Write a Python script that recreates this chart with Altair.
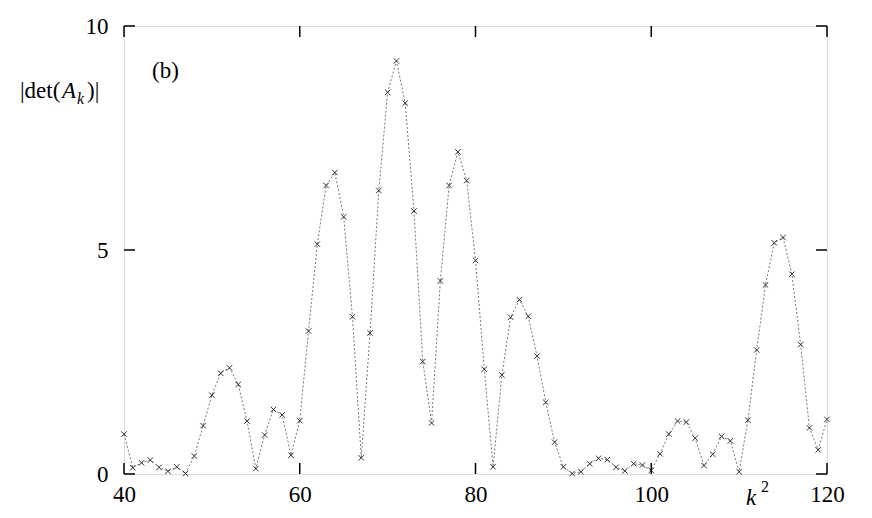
import altair as alt
import pandas as pd

# k^2 values (x) and |det(A_k)| values (y)
k2 = list(range(40, 121))
det = [
    0.89, 0.14, 0.25, 0.31, 0.15, 0.06, 0.16, 0.01, 0.40, 1.08,   # 40-49
    1.76, 2.25, 2.37, 2.00, 1.18, 0.12, 0.87, 1.44, 1.32, 0.42,   # 50-59
    1.19, 3.19, 5.13, 6.44, 6.73, 5.74, 3.51, 0.36, 3.15, 6.33,   # 60-69
    8.52, 9.22, 8.28, 5.87, 2.51, 1.14, 4.31, 6.44, 7.19, 6.55,   # 70-79
    4.77, 2.34, 0.16, 2.21, 3.50, 3.89, 3.52, 2.63, 1.60, 0.71,   # 80-89
    0.16, 0.01, 0.05, 0.23, 0.35, 0.32, 0.15, 0.07, 0.23, 0.20,   # 90-99
    0.08, 0.45, 0.89, 1.18, 1.16, 0.80, 0.19, 0.44, 0.84, 0.74,   # 100-109
    0.05, 1.20, 2.77, 4.22, 5.16, 5.28, 4.46, 2.89, 1.03, 0.54,   # 110-119
    1.22,                                                           # 120
]
x_ticks = [40, 60, 80, 100, 120]
y_ticks = [0, 5, 10]

W, H = 703, 448
TL = 11
FONT = "Liberation Serif, Times New Roman, Times, serif"
FS = 23

df = pd.DataFrame({"k2": k2, "det": det})
xt = pd.DataFrame({"t": x_ticks})
yt = pd.DataFrame({"t": y_ticks})

xscale = alt.Scale(domain=[40, 120], nice=False, zero=False)
yscale = alt.Scale(domain=[0, 10], nice=False)

xaxis = alt.Axis(values=x_ticks, title=None, domain=False, ticks=False, tickSize=0,
                 grid=False, labelFont=FONT, labelFontSize=FS, labelColor="black",
                 labelPadding=9, labelFlush=False)
yaxis = alt.Axis(values=y_ticks, title=None, domain=False, ticks=False, tickSize=0,
                 grid=False, labelFont=FONT, labelFontSize=FS, labelColor="black",
                 labelPadding=16, labelBaseline="middle")

line = alt.Chart(df).mark_line(color="#777777", strokeWidth=1, strokeDash=[2, 2]).encode(
    x=alt.X("k2:Q", scale=xscale, axis=xaxis),
    y=alt.Y("det:Q", scale=yscale, axis=yaxis),
)

pts = alt.Chart(df).mark_point(
    shape="M-1,-1L1,1M-1,1L1,-1", size=30, stroke="#333333", strokeWidth=1, filled=False, opacity=1
).encode(
    x=alt.X("k2:Q", scale=xscale),
    y=alt.Y("det:Q", scale=yscale),
)

bottom_ticks = alt.Chart(xt).mark_rule(color="black", strokeWidth=1.5).encode(
    x=alt.X("t:Q", scale=xscale), y=alt.value(H), y2=alt.value(H - TL))
top_ticks = alt.Chart(xt).mark_rule(color="black", strokeWidth=1.5).encode(
    x=alt.X("t:Q", scale=xscale), y=alt.value(0), y2=alt.value(TL))
left_ticks = alt.Chart(yt).mark_rule(color="black", strokeWidth=1.5).encode(
    y=alt.Y("t:Q", scale=yscale), x=alt.value(0), x2=alt.value(TL))
right_ticks = alt.Chart(yt).mark_rule(color="black", strokeWidth=1.5).encode(
    y=alt.Y("t:Q", scale=yscale), x=alt.value(W), x2=alt.value(W - TL))


def txt(s, x, y, size=FS, style="normal"):
    return alt.Chart(pd.DataFrame({"s": [s]})).mark_text(
        font=FONT, fontSize=size, fontStyle=style, align="left", baseline="alphabetic", color="black"
    ).encode(text="s:N", x=alt.value(x), y=alt.value(y))


labels = [
    txt("(b)", 28, 52),
    txt("|det(", -104, 72),
    txt("A", -62, 72, style="italic"),
    txt("k", -47, 78, size=16, style="italic"),
    txt(")|", -37, 72),
    txt("k", 622, 479, style="italic"),
    txt("2", 637, 466, size=16),
]

chart = alt.layer(line, pts, bottom_ticks, top_ticks, left_ticks, right_ticks, *labels).properties(
    width=W, height=H,
    autosize=alt.AutoSizeParams(type="none"),
    padding={"left": 116, "top": 18, "right": 30, "bottom": 40},
).configure_view(stroke="black", strokeWidth=1.5).configure(background="white")

chart.save("out.html", embed_options={"renderer": "svg", "actions": False})
